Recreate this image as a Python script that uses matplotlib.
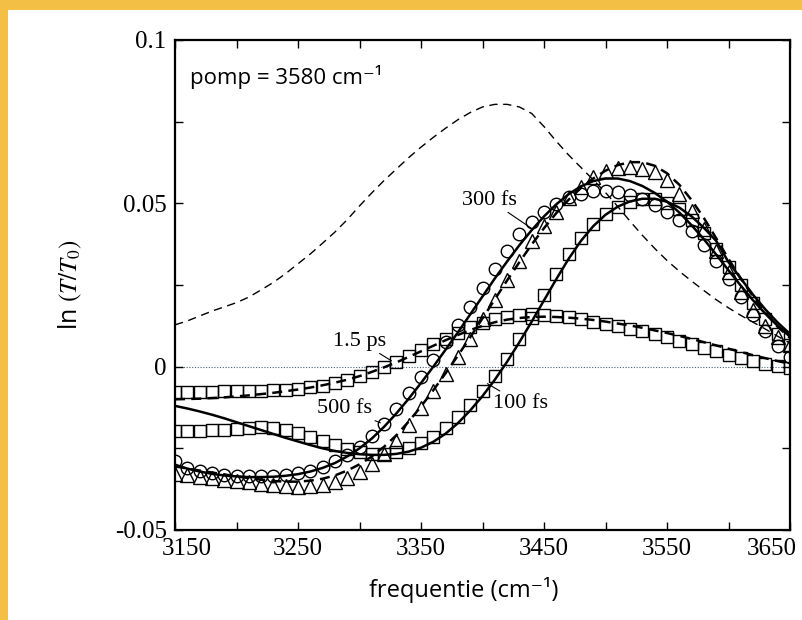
import numpy as np
import matplotlib
matplotlib.use("Agg")
import matplotlib.pyplot as plt
import matplotlib.transforms as mtransforms
from matplotlib.patches import Rectangle
from matplotlib.ticker import MultipleLocator

# frequency grid of the measured points (cm-1)
freq = np.arange(3150, 3651, 10)

# linear absorption spectrum (thin dashed)
absorptie = [0.0128, 0.0140, 0.0155, 0.0170, 0.0183, 0.0196, 0.0213, 0.0235, 0.0258, 0.0285,
             0.0315, 0.0345, 0.0378, 0.0412, 0.0450, 0.0492, 0.0532, 0.0570, 0.0605, 0.0640,
             0.0672, 0.0702, 0.0730, 0.0756, 0.0778, 0.0795, 0.0803, 0.0803, 0.0795, 0.0775,
             0.0735, 0.0690, 0.0648, 0.0610, 0.0572, 0.0533, 0.0490, 0.0445, 0.0402, 0.0362,
             0.0325, 0.0292, 0.0262, 0.0233, 0.0205, 0.0180, 0.0157, 0.0136, 0.0115, 0.0093,
             0.0072]

# 100 fs: squares + solid fit
d100 = [-0.0196, -0.0196, -0.0196, -0.0195, -0.0194, -0.0192, -0.0189, -0.0186, -0.0187, -0.0193,
        -0.0203, -0.0216, -0.0229, -0.0241, -0.0252, -0.0260, -0.0266, -0.0268, -0.0262, -0.0250,
        -0.0235, -0.0215, -0.0188, -0.0155, -0.0118, -0.0075, -0.0028, 0.0025, 0.0085, 0.0150,
        0.0218, 0.0285, 0.0345, 0.0395, 0.0437, 0.0468, 0.0490, 0.0505, 0.0512, 0.0512,
        0.0502, 0.0482, 0.0450, 0.0408, 0.0360, 0.0305, 0.0250, 0.0195, 0.0145, 0.0100,
        0.0065]
f100 = [-0.0120, -0.0128, -0.0137, -0.0147, -0.0158, -0.0170, -0.0182, -0.0194, -0.0206, -0.0218,
        -0.0229, -0.0240, -0.0250, -0.0258, -0.0264, -0.0268, -0.0270, -0.0270, -0.0267, -0.0260,
        -0.0248, -0.0230, -0.0205, -0.0173, -0.0134, -0.0090, -0.0040, 0.0015, 0.0075, 0.0138,
        0.0203, 0.0268, 0.0330, 0.0385, 0.0430, 0.0465, 0.0490, 0.0506, 0.0514, 0.0514,
        0.0505, 0.0487, 0.0460, 0.0425, 0.0385, 0.0320, 0.0270, 0.0220, 0.0175, 0.0135,
        0.0100]

# circles + solid fit
dcirc = [-0.0290, -0.0310, -0.0320, -0.0327, -0.0332, -0.0335, -0.0336, -0.0336, -0.0334, -0.0331,
         -0.0326, -0.0318, -0.0306, -0.0290, -0.0270, -0.0245, -0.0213, -0.0175, -0.0130, -0.0082,
         -0.0032, 0.0020, 0.0074, 0.0128, 0.0183, 0.0240, 0.0298, 0.0355, 0.0405, 0.0442,
         0.0472, 0.0498, 0.0518, 0.0530, 0.0537, 0.0538, 0.0534, 0.0526, 0.0513, 0.0496,
         0.0475, 0.0450, 0.0415, 0.0372, 0.0322, 0.0268, 0.0212, 0.0158, 0.0108, 0.0062,
         0.0030]
fcirc = [-0.0300, -0.0312, -0.0321, -0.0328, -0.0333, -0.0336, -0.0338, -0.0338, -0.0337, -0.0334,
         -0.0329, -0.0321, -0.0310, -0.0295, -0.0275, -0.0250, -0.0220, -0.0184, -0.0143, -0.0098,
         -0.0050, 0.0000, 0.0052, 0.0105, 0.0160, 0.0215, 0.0270, 0.0322, 0.0372, 0.0418,
         0.0460, 0.0497, 0.0528, 0.0552, 0.0568, 0.0576, 0.0576, 0.0568, 0.0553, 0.0532,
         0.0505, 0.0472, 0.0433, 0.0390, 0.0343, 0.0295, 0.0248, 0.0203, 0.0162, 0.0125,
         0.0092]

# triangles + thick dashed fit
dtri = [-0.0328, -0.0333, -0.0338, -0.0342, -0.0346, -0.0350, -0.0354, -0.0358, -0.0362, -0.0365,
        -0.0367, -0.0366, -0.0362, -0.0353, -0.0340, -0.0322, -0.0298, -0.0268, -0.0228, -0.0178,
        -0.0125, -0.0074, -0.0022, 0.0030, 0.0085, 0.0145, 0.0205, 0.0265, 0.0322, 0.0385,
        0.0432, 0.0475, 0.0515, 0.0550, 0.0580, 0.0598, 0.0607, 0.0610, 0.0606, 0.0595,
        0.0570, 0.0530, 0.0478, 0.0420, 0.0355, 0.0290, 0.0228, 0.0172, 0.0125, 0.0090,
        0.0065]
ftri = [-0.0305, -0.0312, -0.0318, -0.0324, -0.0330, -0.0336, -0.0341, -0.0346, -0.0350, -0.0352,
        -0.0352, -0.0349, -0.0343, -0.0333, -0.0318, -0.0299, -0.0275, -0.0245, -0.0210, -0.0168,
        -0.0122, -0.0072, -0.0020, 0.0034, 0.0090, 0.0148, 0.0206, 0.0264, 0.0320, 0.0374,
        0.0424, 0.0470, 0.0511, 0.0547, 0.0576, 0.0600, 0.0617, 0.0626, 0.0626, 0.0615,
        0.0592, 0.0557, 0.0510, 0.0455, 0.0393, 0.0330, 0.0270, 0.0215, 0.0165, 0.0122,
        0.0088]

# 1.5 ps: squares + thick dashed fit
d1500 = [-0.0077, -0.0077, -0.0077, -0.0077, -0.0076, -0.0076, -0.0075, -0.0074, -0.0072, -0.0070,
         -0.0067, -0.0063, -0.0058, -0.0050, -0.0040, -0.0030, -0.0015, 0.0000, 0.0015, 0.0032,
         0.0050, 0.0068, 0.0086, 0.0104, 0.0120, 0.0134, 0.0145, 0.0153, 0.0158, 0.0160,
         0.0159, 0.0156, 0.0151, 0.0145, 0.0138, 0.0131, 0.0124, 0.0116, 0.0108, 0.0099,
         0.0090, 0.0080, 0.0069, 0.0058, 0.0047, 0.0036, 0.0026, 0.0017, 0.0009, 0.0002,
         -0.0004]
f1500 = [-0.0100, -0.0099, -0.0098, -0.0096, -0.0094, -0.0091, -0.0088, -0.0084, -0.0080, -0.0075,
         -0.0070, -0.0064, -0.0057, -0.0049, -0.0040, -0.0029, -0.0016, -0.0002, 0.0013, 0.0030,
         0.0047, 0.0064, 0.0081, 0.0097, 0.0112, 0.0125, 0.0136, 0.0144, 0.0149, 0.0152,
         0.0153, 0.0152, 0.0150, 0.0147, 0.0143, 0.0138, 0.0132, 0.0126, 0.0119, 0.0111,
         0.0103, 0.0094, 0.0085, 0.0075, 0.0065, 0.0055, 0.0045, 0.0035, 0.0026, 0.0017,
         0.0009]

xticks = [3150, 3250, 3350, 3450, 3550, 3650]
yticks = [-0.05, 0, 0.05, 0.1]
ytick_labels = ["-0.05", "0", "0.05", "0.1"]

serif = "Liberation Serif"
sans = ["Open Sans", "DejaVu Sans"]
plt.rcParams["mathtext.fontset"] = "stix"

fig = plt.figure(figsize=(8.03, 6.20), dpi=100, facecolor="#f3bf45")
# white page with a yellow scan border at top and left
fig.patches.append(Rectangle((8 / 803, 0), 1, 1 - 10 / 620, transform=fig.transFigure,
                             facecolor="white", edgecolor="none", zorder=-10))
ax = fig.add_axes([175 / 803, 90 / 620, 615 / 803, 490 / 620])
ax.set_zorder(5)

ax.axhline(0, color="#50607a", lw=0.8, ls=(0, (1, 1.5)), zorder=1)
ax.plot(freq, absorptie, color="black", lw=1.0, dashes=(6, 4))

mk = dict(ls="none", mfc="none", mec="black", mew=1.0)
ax.plot(freq, d1500, marker="s", ms=8.5, **mk)
ax.plot(freq, f1500, color="black", lw=1.8, dashes=(4, 2.5))
ax.plot(freq, d100, marker="s", ms=8.5, **mk)
ax.plot(freq, f100, color="black", lw=1.8)
ax.plot(freq, dcirc, marker="o", ms=9, **mk)
ax.plot(freq, fcirc, color="black", lw=1.8)
ax.plot(freq, dtri, marker="^", ms=10, **mk)
ax.plot(freq, ftri, color="black", lw=1.8, dashes=(4, 2.5))

ax.set_xlim(3150, 3650)
ax.set_ylim(-0.05, 0.1)
ax.xaxis.set_minor_locator(MultipleLocator(50))
ax.yaxis.set_minor_locator(MultipleLocator(0.025))
ax.set_xticks(xticks)
ax.set_yticks(yticks)
ax.set_yticklabels(ytick_labels)
ax.tick_params(which="both", direction="in", top=True, right=True, length=6, width=1.0,
               labelsize=18, pad=6)
for lab in ax.get_xticklabels() + ax.get_yticklabels():
    lab.set_fontfamily(serif)
for sp in ax.spines.values():
    sp.set_linewidth(1.6)

# the outer x labels sit a bit inward, as in the scan
xl = ax.get_xticklabels()
xl[0].set_transform(xl[0].get_transform() + mtransforms.ScaledTranslation(0.12, 0, fig.dpi_scale_trans))
xl[-1].set_transform(xl[-1].get_transform() + mtransforms.ScaledTranslation(-0.18, 0, fig.dpi_scale_trans))

ax.set_xlabel("frequentie (cm⁻¹)", fontsize=17, family=sans, labelpad=8)
ax.xaxis.set_label_coords(0.47, -0.095)
ax.set_ylabel(r"ln $(T/T_0)$", fontsize=18, family=sans, labelpad=22)

ax.text(0.025, 0.925, "pomp = 3580 cm⁻¹", transform=ax.transAxes,
        fontsize=16, family=sans, va="center", ha="left")

lbl = dict(fontsize=16, family=serif, ha="center", va="center",
           arrowprops=dict(arrowstyle="-", lw=0.8, color="black", shrinkA=0, shrinkB=0))
ax.annotate("300 fs", xy=(3440, 0.0423), xytext=(3406, 0.051), **lbl)
ax.annotate("1.5 ps", xy=(3326, 0.0018), xytext=(3300, 0.0078), **lbl)
ax.annotate("500 fs", xy=(3317, -0.0172), xytext=(3288, -0.0128), **lbl)
ax.annotate("100 fs", xy=(3404, -0.0052), xytext=(3431, -0.0112), **lbl)

fig.savefig("out.png", dpi=100, facecolor=fig.get_facecolor())
